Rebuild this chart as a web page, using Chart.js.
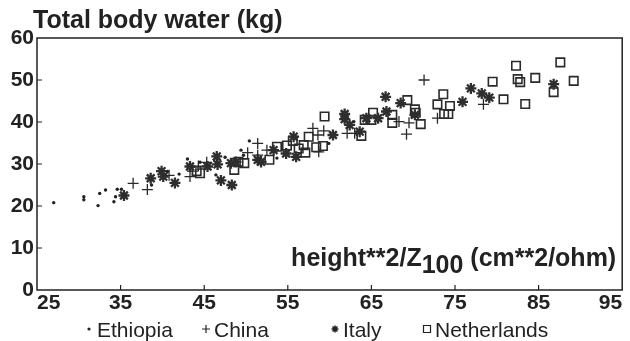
<!DOCTYPE html>
<html>
<head>
<meta charset="utf-8">
<script src="https://cdn.jsdelivr.net/npm/chart.js@4.4.1/dist/chart.umd.min.js"></script>
<style>
  html, body { margin: 0; padding: 0; background: #fff; }
  #wrap { width: 630px; height: 341px; }
</style>
</head>
<body>
<div id="wrap"><canvas id="tbw" width="630" height="341"></canvas></div>
<script>
const titleText = "Total body water (kg)";
const xLabelParts = ["height**2/Z", "100", " (cm**2/ohm)"];
const seriesNames = ["Ethiopia", "China", "Italy", "Netherlands"];
const xTicks = [25, 35, 45, 55, 65, 75, 85, 95];
const yTicks = [0, 10, 20, 30, 40, 50, 60];

const ethiopiaX = [27.0, 30.6, 30.6, 32.3, 32.5, 33.2, 34.2, 34.4, 34.6, 35.1, 38.7, 40.6, 42.0, 43.0, 44.5, 46.4, 47.5, 49.7, 49.4, 50.4, 53.7, 59.9, 62.9];
const ethiopiaY = [20.8, 22.2, 21.5, 20.1, 23.0, 23.8, 21.0, 22.2, 24.0, 24.0, 25.0, 28.2, 27.6, 31.2, 30.4, 27.4, 31.6, 32.1, 33.3, 35.5, 31.4, 34.9, 40.1];

const chinaX = [36.5, 38.2, 40.8, 43.3, 43.6, 44.3, 45.3, 50.2, 51.4, 51.4, 52.5, 58.0, 58.6, 58.7, 59.3, 62.1, 63.0, 68.3, 69.5, 69.2, 71.3, 72.9, 78.4];
const chinaY = [25.4, 23.9, 27.3, 27.0, 28.3, 29.5, 30.4, 32.7, 34.9, 32.1, 33.3, 38.5, 36.9, 32.9, 37.9, 37.3, 37.3, 40.1, 39.8, 37.1, 50.0, 40.9, 44.2];

const italyX = [35.4, 38.6, 39.9, 40.1, 41.5, 43.3, 45.4, 46.5, 46.6, 47.0, 48.3, 48.2, 48.8, 51.4, 51.8, 53.3, 54.8, 55.7, 56.0, 60.4, 61.8, 61.8, 62.4, 63.6, 64.4, 65.8, 66.7, 66.8, 68.5, 70.2, 75.9, 76.9, 78.2, 79.1, 86.8];
const italyY = [22.5, 26.6, 28.3, 27.0, 25.5, 29.4, 29.4, 31.8, 29.9, 26.1, 25.0, 30.2, 30.5, 31.0, 30.5, 33.3, 32.5, 36.5, 31.7, 36.9, 41.9, 40.7, 39.3, 37.7, 40.9, 40.9, 46.0, 42.5, 44.5, 41.7, 44.8, 48.0, 46.8, 45.8, 49.0];

const netherlandsX = [44.1, 44.5, 48.6, 49.1, 49.8, 52.8, 53.7, 54.9, 55.6, 56.3, 56.9, 57.1, 57.5, 58.4, 59.2, 59.4, 63.8, 64.2, 65.0, 65.2, 67.5, 67.5, 69.3, 70.2, 70.3, 70.9, 72.9, 73.6, 74.4, 73.7, 74.2, 79.5, 80.8, 82.3, 82.5, 82.8, 83.4, 84.6, 86.8, 87.6, 89.2];
const netherlandsY = [28.3, 27.8, 28.6, 30.5, 30.2, 31.0, 34.1, 34.4, 35.5, 33.7, 34.5, 32.7, 36.5, 34.0, 34.3, 41.3, 36.7, 40.5, 40.5, 42.2, 41.7, 39.8, 45.2, 43.0, 42.2, 39.5, 44.2, 46.6, 43.8, 41.9, 41.9, 49.6, 45.4, 53.4, 50.2, 49.5, 44.3, 50.5, 47.1, 54.2, 49.8];

const ink = "#222";
const fontFamily = '"Liberation Sans", Arial, sans-serif';

function pts(xs, ys) {
  return xs.map((v, i) => ({ x: v, y: ys[i] }));
}

// frame, inward ticks, title, axis caption and legend
const decor = {
  id: "decor",
  afterDraw(chart) {
    const { ctx, chartArea: a, scales } = chart;
    ctx.save();
    ctx.strokeStyle = ink;
    ctx.lineWidth = 1.5;
    ctx.strokeRect(a.left, a.top, a.right - a.left, a.bottom - a.top);

    ctx.lineWidth = 1.2;
    ctx.beginPath();
    scales.x.ticks.forEach(t => {
      const px = scales.x.getPixelForValue(t.value);
      if (px > a.left + 2 && px < a.right - 2) {
        ctx.moveTo(px, a.bottom);
        ctx.lineTo(px, a.bottom - 5);
      }
    });
    scales.y.ticks.forEach(t => {
      const py = scales.y.getPixelForValue(t.value);
      if (py > a.top + 2 && py < a.bottom - 2) {
        ctx.moveTo(a.left, py);
        ctx.lineTo(a.left + 5, py);
      }
    });
    ctx.stroke();

    ctx.fillStyle = ink;
    ctx.textBaseline = "alphabetic";
    ctx.textAlign = "left";

    // title
    ctx.font = "bold 25px " + fontFamily;
    ctx.fillText(titleText, a.left - 4, 28);

    // x caption, with subscript, right aligned inside the plot
    const w0 = ctx.measureText(xLabelParts[0]).width;
    const w1 = ctx.measureText(xLabelParts[1]).width;
    const w2 = ctx.measureText(xLabelParts[2]).width;
    let cx = a.right - 6 - (w0 + w1 + w2);
    const base = a.bottom - 24;
    ctx.fillText(xLabelParts[0], cx, base);
    cx += w0;
    ctx.fillText(xLabelParts[1], cx, base + 7);
    cx += w1;
    ctx.fillText(xLabelParts[2], cx, base);

    // legend
    const legendX = [89, 206, 335, 427];
    const ly = 329;
    ctx.font = "21px " + fontFamily;
    chart.data.datasets.forEach((ds, i) => {
      const mx = legendX[i];
      ctx.beginPath();
      ctx.lineWidth = 1.2;
      if (ds.pointStyle === "circle") {
        ctx.arc(mx, ly, 1.6, 0, Math.PI * 2);
        ctx.fill();
      } else if (ds.pointStyle === "cross") {
        ctx.moveTo(mx - 4, ly); ctx.lineTo(mx + 4, ly);
        ctx.moveTo(mx, ly - 4); ctx.lineTo(mx, ly + 4);
        ctx.stroke();
      } else if (ds.pointStyle === "star") {
        ctx.lineWidth = 1.6;
        for (let k = 0; k < 4; k++) {
          const ang = k * Math.PI / 4;
          ctx.moveTo(mx - 3.5 * Math.cos(ang), ly - 3.5 * Math.sin(ang));
          ctx.lineTo(mx + 3.5 * Math.cos(ang), ly + 3.5 * Math.sin(ang));
        }
        ctx.stroke();
      } else {
        ctx.rect(mx - 3.5, ly - 3.5, 7, 7);
        ctx.stroke();
      }
      ctx.fillText(ds.label, mx + 8, ly + 8);
    });
    ctx.restore();
  }
};

new Chart(document.getElementById("tbw").getContext("2d"), {
  type: "scatter",
  data: {
    datasets: [
      {
        label: seriesNames[0],
        data: pts(ethiopiaX, ethiopiaY),
        pointStyle: "circle",
        pointRadius: 1.7,
        backgroundColor: ink,
        borderColor: ink,
        borderWidth: 0,
      },
      {
        label: seriesNames[1],
        data: pts(chinaX, chinaY),
        pointStyle: "cross",
        pointRadius: 5.5,
        borderColor: "#2a2a2a",
        borderWidth: 1.3,
      },
      {
        label: seriesNames[2],
        data: pts(italyX, italyY),
        pointStyle: "star",
        pointRadius: 5.5,
        borderColor: "#2e2e2e",
        borderWidth: 2.3,
      },
      {
        label: seriesNames[3],
        data: pts(netherlandsX, netherlandsY),
        pointStyle: "rect",
        pointRadius: 6,
        backgroundColor: "rgba(255,255,255,0)",
        borderColor: "#2a2a2a",
        borderWidth: 1.6,
      },
    ],
  },
  options: {
    responsive: false,
    animation: false,
    events: [],
    layout: { padding: { left: 0, right: 3, top: 38, bottom: 23 } },
    plugins: {
      legend: { display: false },
      title: { display: false },
      tooltip: { enabled: false },
    },
    scales: {
      x: {
        type: "linear",
        min: xTicks[0],
        max: xTicks[xTicks.length - 1],
        afterBuildTicks: s => { s.ticks = xTicks.map(v => ({ value: v })); },
        afterFit: s => { s.height = 28; },
        grid: { display: false, drawTicks: false },
        border: { display: false },
        ticks: {
          align: "inner",
          padding: 1,
          color: ink,
          font: { family: fontFamily, size: 21, weight: "bold" },
        },
      },
      y: {
        type: "linear",
        min: yTicks[0],
        max: yTicks[yTicks.length - 1],
        afterBuildTicks: s => { s.ticks = yTicks.map(v => ({ value: v })); },
        afterFit: s => { s.width = 37; },
        grid: { display: false, drawTicks: false },
        border: { display: false },
        ticks: {
          padding: 3,
          color: ink,
          font: { family: fontFamily, size: 21, weight: "bold" },
        },
      },
    },
  },
  plugins: [decor],
});
</script>
</body>
</html>
